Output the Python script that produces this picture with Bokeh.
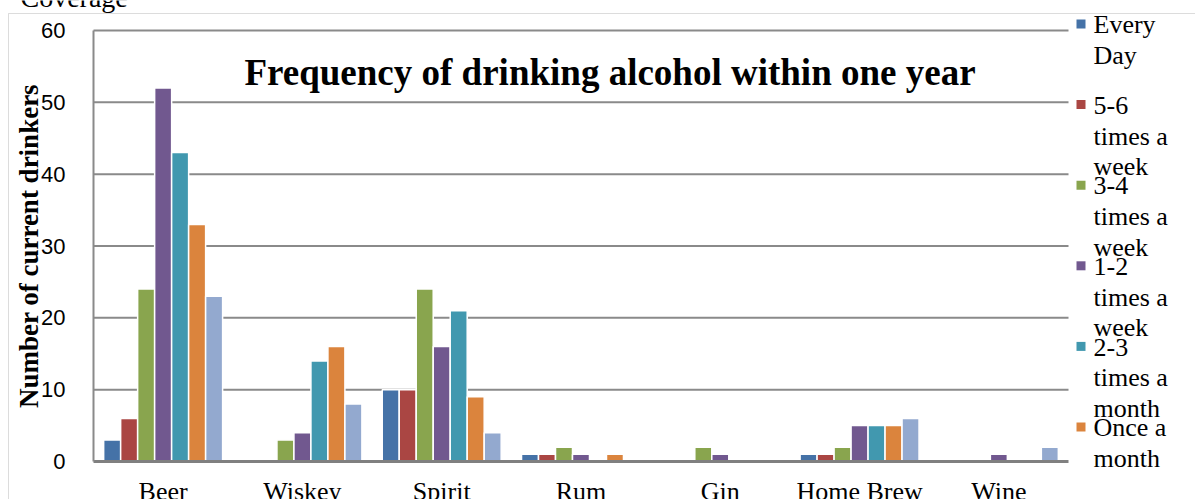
from bokeh.plotting import figure
from bokeh.models import (ColumnDataSource, Range1d, Label, BoxAnnotation,
                          FixedTicker)
from bokeh.transform import dodge
from bokeh.embed import file_html
from bokeh.resources import INLINE

categories = ["Beer", "Wiskey", "Spirit", "Rum", "Gin", "Home Brew", "Wine"]
series_names = ["Every Day", "5-6 times a week", "3-4 times a week",
                "1-2 times a week", "2-3 times a month", "Once a month",
                "Less than once a month"]
every_day = [3, 0, 10, 1, 0, 1, 0]
five_six_week = [6, 0, 10, 1, 0, 1, 0]
three_four_week = [24, 3, 24, 2, 2, 2, 0]
one_two_week = [52, 4, 16, 1, 1, 5, 1]
two_three_month = [43, 14, 21, 0, 0, 5, 0]
once_month = [33, 16, 9, 1, 0, 5, 0]
less_once_month = [23, 8, 4, 0, 0, 6, 2]
colors = ["#4572A7", "#AA4643", "#89A54E", "#71588F", "#4198AF", "#DB843D", "#93A9CF"]
legend_lines = [["Every", "Day"], ["5-6", "times a", "week"], ["3-4", "times a", "week"],
                ["1-2", "times a", "week"], ["2-3", "times a", "month"], ["Once a", "month"]]
y_ticks = [0, 10, 20, 30, 40, 50, 60]
y_max = 60

series = [every_day, five_six_week, three_four_week, one_two_week,
          two_three_month, once_month, less_once_month]

W, H = 1195, 499
FL, FT, FR, FB = 93, 30, 1068, 461  # plot-area edges in canvas px
n = len(categories)
ppx = (FR - FL) / n          # px per category
ppy = (FB - FT) / y_max      # px per unit

x_pos = [i + 1 for i in range(n)]
src = ColumnDataSource(data={"x": x_pos,
                             **{f"s{i}": v for i, v in enumerate(series)}})

x_range = Range1d(0.5 - FL / ppx, 0.5 + (W - FL) / ppx)
y_range = Range1d(-(H - FB) / ppy, FB / ppy)

p = figure(width=W, height=H, x_range=x_range, y_range=y_range,
           output_backend="svg", toolbar_location=None,
           min_border_left=0, min_border_right=0, min_border_top=0,
           min_border_bottom=0)
p.outline_line_color = None
p.background_fill_color = "white"
p.border_fill_color = "white"
p.grid.visible = False

GRID = "#8a8a8a"
# horizontal gridlines, limited to the plot area
p.segment(x0=0.5, x1=n + 0.5, y0=y_ticks[1:], y1=y_ticks[1:],
          line_color=GRID, line_width=2)

pitch = 0.122
for i, name in enumerate(series_names):
    p.vbar(x=dodge("x", (i - 3) * pitch), top=f"s{i}",
           width=pitch, source=src, fill_color=colors[i], line_color="white",
           line_width=1.5)

SERIF = "Liberation Serif"
SANS = "Liberation Sans"

yax = p.yaxis[0]
yax.fixed_location = 0.5
yax.bounds = (0, y_max)
yax.ticker = FixedTicker(ticks=y_ticks)
yax.axis_line_color = GRID
yax.axis_line_width = 2
yax.major_tick_line_color = None
yax.minor_tick_line_color = None
yax.major_label_text_font = SANS
yax.major_label_text_font_size = "22px"
yax.major_label_text_color = "black"
yax.major_label_standoff = 22
yax.axis_label = "Number of current drinkers"
yax.axis_label_text_font = SERIF
yax.axis_label_text_font_style = "bold"
yax.axis_label_text_font_size = "27px"
yax.axis_label_text_color = "black"
yax.axis_label_standoff = -6

xax = p.xaxis[0]
xax.fixed_location = 0
xax.bounds = (0.5, n + 0.5)
xax.ticker = FixedTicker(ticks=x_pos)
xax.major_label_overrides = {x: c for x, c in zip(x_pos, categories)}
xax.axis_line_color = "#808080"
xax.axis_line_width = 3
xax.major_tick_line_color = None
xax.minor_tick_line_color = None
xax.major_label_text_font = SERIF
xax.major_label_text_font_size = "26px"
xax.major_label_text_color = "black"
xax.major_label_standoff = 9


def sx(x):
    return x


def sy(y, fs=0):
    # screen y (from bottom) for a wanted canvas baseline, corrected for font
    return H - (y - 0.26 * fs)


p.add_layout(Label(x=sx(609.5), y=sy(82, 37), x_units="screen", y_units="screen",
                   text="Frequency of drinking alcohol within one year",
                   text_font=SERIF, text_font_style="bold", text_font_size="37px",
                   text_align="center", text_baseline="alphabetic", text_color="black"))

p.add_layout(Label(x=sx(20), y=sy(4, 28), x_units="screen", y_units="screen",
                   text="Coverage", text_font=SERIF, text_font_size="28px",
                   text_baseline="alphabetic", text_color="black"))

p.add_layout(BoxAnnotation(left=sx(8), right=sx(W + 50), top=sy(13), bottom=sy(H + 50),
                           left_units="screen", right_units="screen",
                           top_units="screen", bottom_units="screen",
                           fill_alpha=0, line_color=GRID, line_width=1))

for k, lines in enumerate(legend_lines):
    cy = 23.5 + 80.6 * k
    p.add_layout(BoxAnnotation(left=sx(1076), right=sx(1085), top=sy(cy - 4.5),
                               bottom=sy(cy + 4.5), left_units="screen",
                               right_units="screen", top_units="screen",
                               bottom_units="screen", fill_color=colors[k],
                               fill_alpha=1, line_color=None))
    for j, t in enumerate(lines):
        p.add_layout(Label(x=sx(1093), y=sy(31 + 80.6 * k + 30.7 * j, 26),
                           x_units="screen", y_units="screen", text=t,
                           text_font=SERIF, text_font_size="26px",
                           text_baseline="alphabetic", text_color="black"))

open("out.html", "w").write(file_html(p, INLINE))
